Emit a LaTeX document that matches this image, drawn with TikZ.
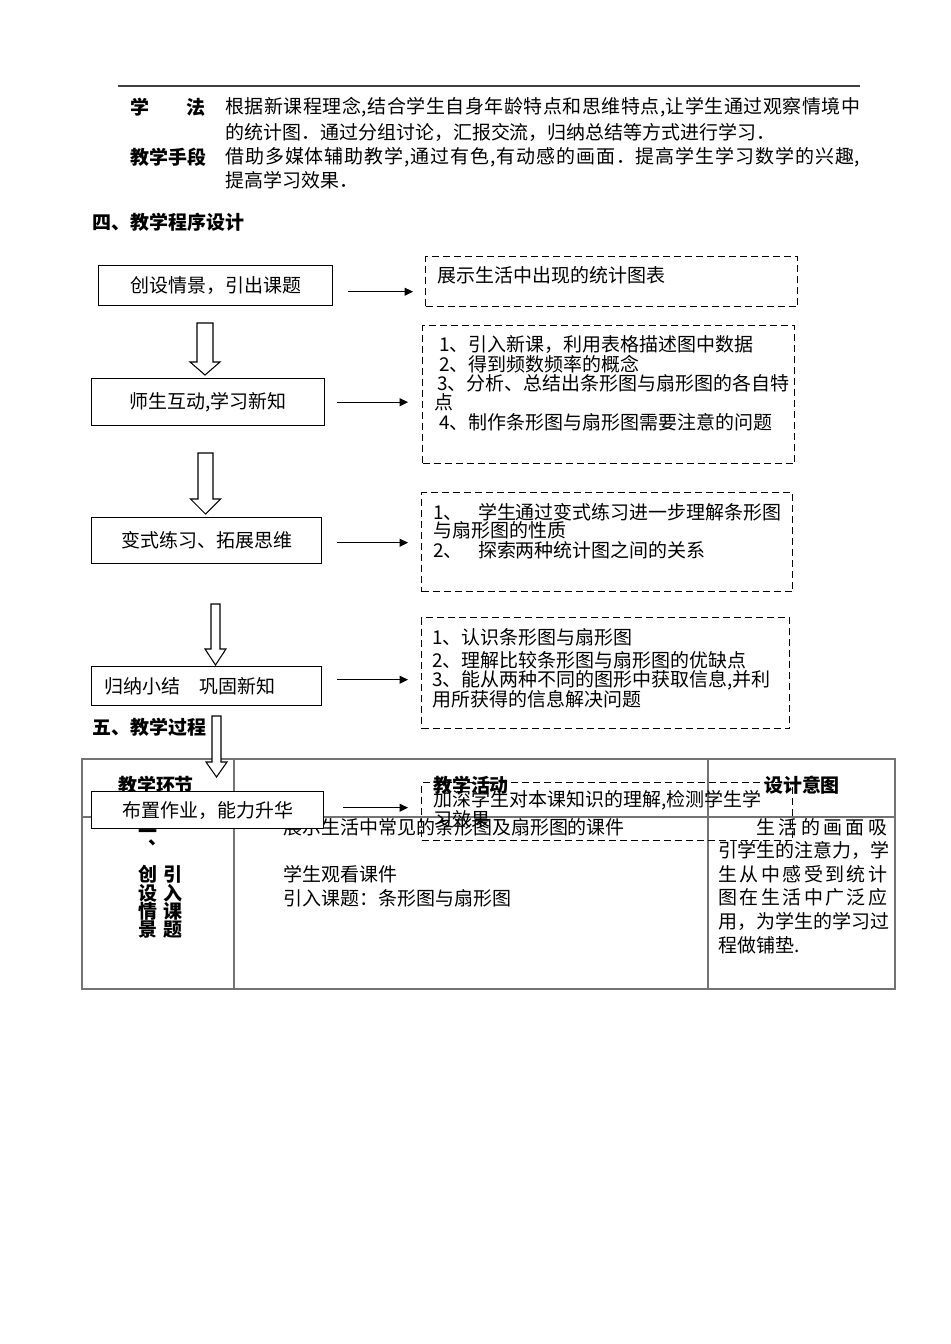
\documentclass[tikz,border=0pt]{standalone}
\usepackage{fontspec}
\setmainfont{Noto Sans CJK SC}
\usetikzlibrary{arrows.meta}
\newcommand\cnsize{\fontsize{10.8pt}{13pt}\selectfont}
% spread the characters of a line evenly
\makeatletter
\def\spreadtext#1{\spreadt@#1\@nil}
\def\spreadt@#1#2\@nil{#1\if\relax\detokenize{#2}\relax\else\hfil\spreadt@#2\@nil\fi}
\makeatother

\begin{document}
\begin{tikzpicture}[
  x=0.02cm, y=-0.02cm,
  txt/.style={inner sep=0pt, anchor=west, font=\cnsize},
  hd/.style={txt, font=\cnsize\bfseries},
  stepbox/.style={draw, fill=white, line width=0.8pt, inner sep=0pt, anchor=north west, font=\cnsize},
  dbox/.style={draw, line width=0.8pt, dash pattern=on 1.4mm off 0.8mm, inner sep=0pt, anchor=north west},
  flow/.style={line width=0.7pt, -{Triangle[length=1.7mm,width=1.6mm]}},
  hollow/.style={draw, fill=white, line width=0.6pt},
  tbl/.style={draw=black!55, line width=0.7pt}
]
\fill[white] (0,0) rectangle (950,1344);
\useasboundingbox (0,0) rectangle (950,1344);

% top part
\draw[line width=1.1pt, black!75] (118,86) -- (860,86);
\node[hd] (xf) at (130,107) {\makebox[1.5cm][s]{学\hfill 法}};
\node[txt] (p1) at (225,107) {\makebox[12.7cm][s]{\spreadtext{根据新课程理念,结合学生自身年龄特点和思维特点,让学生通过观察情境中}}};
\node[txt] (p2) at (225,132) {的统计图．通过分组讨论，汇报交流，归纳总结等方式进行学习．};
\node[hd] (sd) at (130,157) {教学手段};
\node[txt] (p3) at (225,157) {\makebox[12.7cm][s]{\spreadtext{借助多媒体辅助教学,通过有色,有动感的画面．提高学生学习数学的兴趣,}}};
\node[txt] (p4) at (225,180) {提高学习效果．};
\node[hd] (s4) at (92,222) {四、教学程序设计};
\node[hd] (s5) at (92,727) {五、教学过程};

% table
\draw[tbl] (82,759) rectangle (895,989);
\draw[tbl] (234,759) -- (234,989) (708,759) -- (708,989) (82,817) -- (895,817);
\node[hd, anchor=center] (h1) at (156,785) {教学环节};
\node[hd, anchor=center] (h2) at (471,785) {教学活动};
\node[hd, anchor=center] (h3) at (802,785) {设计意图};
\node[hd, anchor=center] (c0) at (148,834) {一};
\node[hd, anchor=center] (c00) at (158,843) {、};
\foreach \c [count=\i] in {创,设,情,景}
  \node[hd, anchor=center] (cl\i) at (148,856+18.5*\i) {\c};
\foreach \c [count=\i] in {引,入,课,题}
  \node[hd, anchor=center] (cr\i) at (173,856+18.5*\i) {\c};
\node[txt] (t1) at (283,827) {展示生活中常见的条形图及扇形图的课件};
\node[txt] (t2) at (283,874) {学生观看课件};
\node[txt] (t3) at (283,898) {引入课题：条形图与扇形图};
\foreach \y/\ind/\t [count=\i] in {827/2em/生活的画面吸, 850/0em/{引学生的注意力，学}, 874/0em/生从中感受到统计,
    897/0em/图在生活中广泛应, 921/0em/{用，为学生的学习过}}
  \node[txt] (r\i) at (718,\y) {\makebox[3.38cm][s]{\hspace{\ind}\expandafter\spreadtext\expandafter{\t}}};
\node[txt] (r6) at (718,945) {程做铺垫.};

% flow chart
\node[stepbox, minimum width=4.68cm, minimum height=0.8cm] (b1) at (98,265) {创设情景，引出课题};
\node[stepbox, minimum width=4.66cm, minimum height=0.94cm] (b2) at (91,378) {师生互动,学习新知};
\node[stepbox, minimum width=4.6cm, minimum height=0.92cm] (b3) at (91,517) {变式练习、拓展思维};
\node[stepbox, minimum width=4.6cm, minimum height=0.78cm, text width=4.08cm, inner xsep=0.26cm, align=left] (b4) at (91,666) {归纳小结\quad 巩固新知};
\node[stepbox, minimum width=4.64cm, minimum height=0.74cm] (b5) at (91,791) {布置作业，能力升华};

\node[dbox, minimum width=7.44cm, minimum height=1cm] (d1) at (425,256) {};
\node[txt] (d1t) at (437,275) {展示生活中出现的统计图表};

\node[dbox, minimum width=7.44cm, minimum height=2.76cm] (d2) at (422,325) {};
\foreach \x/\y/\t [count=\i] in {439/345/{1、引入新课，利用表格描述图中数据}, 439/364/{2、得到频数频率的概念},
    437/383/{3、分析、总结出条形图与扇形图的各自特}, 434/402/{点}, 439/422/{4、制作条形图与扇形图需要注意的问题}}
  \node[txt] (d2t\i) at (\x,\y) {\t};

\node[dbox, minimum width=7.42cm, minimum height=1.98cm] (d3) at (421,492) {};
\foreach \y/\t [count=\i] in {512/{1、\hspace{0.8em}学生通过变式练习进一步理解条形图}, 530/{与扇形图的性质},
    550/{2、\hspace{0.8em}探索两种统计图之间的关系}}
  \node[txt] (d3t\i) at (433,\y) {\t};

\node[dbox, minimum width=7.36cm, minimum height=2.22cm] (d4) at (421,617) {};
\foreach \y/\t [count=\i] in {637/{1、认识条形图与扇形图}, 660/{2、理解比较条形图与扇形图的优缺点},
    680/{3、能从两种不同的图形中获取信息,并利}, 699/{用所获得的信息解决问题}}
  \node[txt] (d4t\i) at (432,\y) {\t};

\node[dbox, minimum width=7.42cm, minimum height=1.16cm] (d5) at (421,782) {};
\node[txt] (d5t1) at (433,800) {加深学生对本课知识的理解,检测学生学};
\node[txt] (d5t2) at (433,819) {习效果};

\foreach \b/\d/\g/\dy/\s in {b1/d1/15/6/0.24cm, b2/d2/12/0/0.28cm, b3/d3/15/2/0.26cm,
    b4/d4/15/-6.5/0.26cm, b5/d5/19/-2.5/0.26cm}
  \draw[flow, shorten >=\s] ([shift={(\g,\dy)}]\b.east) coordinate (s) -- (s -| \d.west);

\foreach \x/\t/\s/\e/\a/\h in {205/323/362/375/8/15, 205.5/453/499/514/7.5/15,
    215.5/604/649/665/4.5/10.5, 216.5/716/762/777/4.5/10.5}
  \draw[hollow] (\x-\a,\t) -- (\x+\a,\t) -- (\x+\a,\s) -- (\x+\h,\s) -- (\x,\e)
    -- (\x-\h,\s) -- (\x-\a,\s) -- cycle;
\end{tikzpicture}
\end{document}
